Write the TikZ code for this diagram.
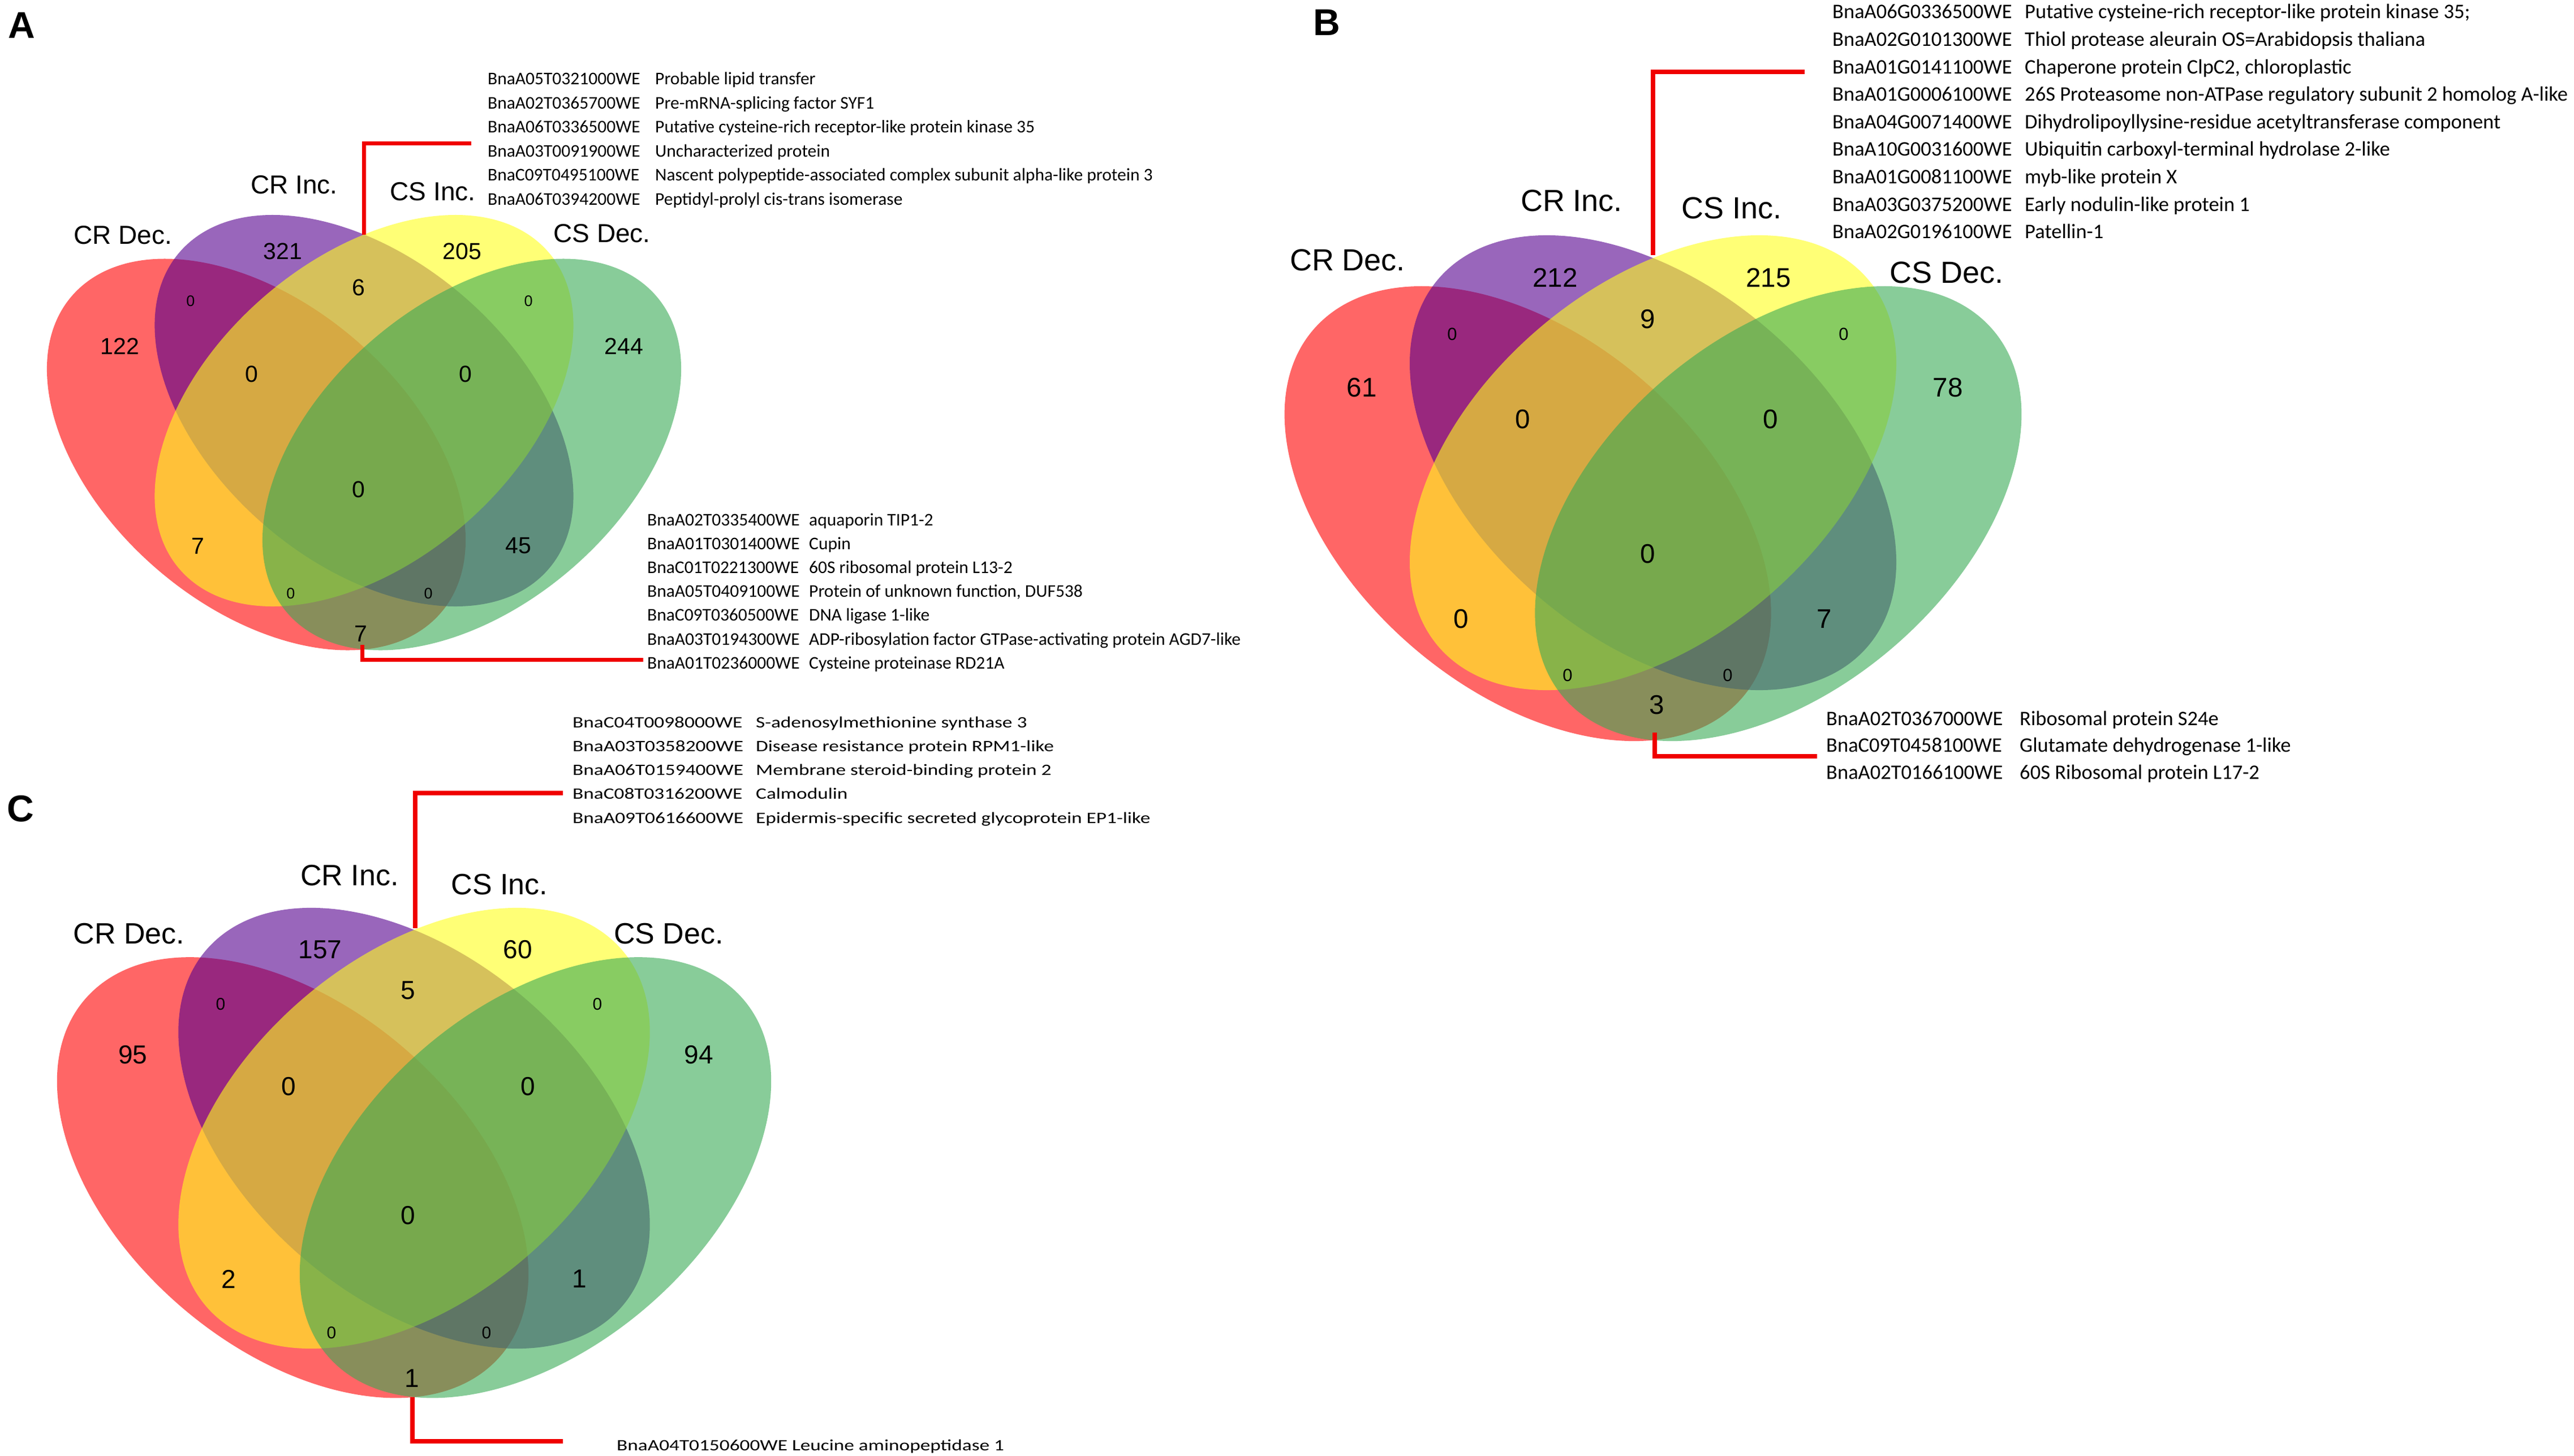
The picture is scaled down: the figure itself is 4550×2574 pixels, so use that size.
\documentclass[tikz,border=0pt]{standalone}
\usepackage{fontspec}
\newfontfamily\arialf{Liberation Sans}
\newfontfamily\calf{Carlito}
\newfontfamily\calwf[FakeStretch=1.26]{Carlito}
\definecolor{vred}{RGB}{255,0,0}
\definecolor{vpurple}{RGB}{85,0,142}
\definecolor{vyellow}{RGB}{255,255,28}
\definecolor{vgreen}{RGB}{57,170,85}
\definecolor{lnred}{RGB}{240,0,0}
\tikzset{
  vfill/.style={fill=#1, fill opacity=0.6},
  panel/.style={font=\arialf\bfseries\fontsize{66}{70}\selectfont, inner sep=0},
  labA/.style={font=\arialf\fontsize{46}{50}\selectfont, inner sep=0},
  numA/.style={font=\arialf\fontsize{41}{45}\selectfont, inner sep=0},
  smA/.style={font=\arialf\fontsize{27}{30}\selectfont, inner sep=0},
  labB/.style={font=\arialf\fontsize{54}{58}\selectfont, inner sep=0},
  numB/.style={font=\arialf\fontsize{47.6}{50}\selectfont, inner sep=0},
  smB/.style={font=\arialf\fontsize{31}{34}\selectfont, inner sep=0},
  labC/.style={font=\arialf\fontsize{52}{56}\selectfont, inner sep=0},
  numC/.style={font=\arialf\fontsize{46}{50}\selectfont, inner sep=0},
  smC/.style={font=\arialf\fontsize{30}{33}\selectfont, inner sep=0},
  gA/.style={font=\calf\fontsize{31.5}{34}\selectfont, inner sep=0, anchor=base west},
  gB/.style={font=\calf\fontsize{36.5}{40}\selectfont, inner sep=0, anchor=base west},
  gC/.style={font=\calwf\fontsize{28}{31}\selectfont, inner sep=0, anchor=base west},
  lead/.style={draw=lnred, line width=#1, line join=miter, line cap=butt},
}
% quad venn: cx, cy, scale
\newcommand\quadvenn[3]{%
\begin{scope}[shift={(#1,#2)}, scale=#3]
  \begin{scope}[shift={(-190.5,77.5)}, yscale=.935, rotate=-45]
    \fill[vfill=vred] (0,0) ellipse [x radius=443.4, y radius=277.9];
  \end{scope}
  \begin{scope}[yscale=.935, rotate=-45]
    \fill[vfill=vpurple] (0,0) ellipse [x radius=443.4, y radius=277.9];
  \end{scope}
  \begin{scope}[yscale=.935, rotate=45]
    \fill[vfill=vyellow] (0,0) ellipse [x radius=443.4, y radius=277.9];
  \end{scope}
  \begin{scope}[shift={(190.5,77.5)}, yscale=.935, rotate=45]
    \fill[vfill=vgreen] (0,0) ellipse [x radius=443.4, y radius=277.9];
  \end{scope}
\end{scope}}
% gene list: prefix, style, xid, xdesc, ybase, dy, list
\newcommand\genes[7]{%
  \foreach \gid/\gdesc [count=\gi from 0] in {#7}{
    \node[#2] (#1id\gi) at (#3, #5+#6*\gi) {\gid};
    \node[#2] (#1de\gi) at (#4, #5+#6*\gi) {\gdesc};
  }}
\begin{document}
\begin{tikzpicture}[x=1pt, y=-1pt]
\useasboundingbox (0,0) rectangle (4550,2574);
\fill[white] (0,0) rectangle (4550,2574);

% ================= Panel A =================
\quadvenn{643.5}{726}{1}
\node[panel] (pA) at (38,45) {A};
\node[labA] (AcrD) at (217,416) {CR Dec.};
\node[labA] (AcrI) at (520,327) {CR Inc.};
\node[labA] (AcsI) at (765,339) {CS Inc.};
\node[labA] (AcsD) at (1064,413) {CS Dec.};
\foreach \t/\x/\y [count=\k] in {321/500/444, 205/817/444, 6/634/508, 122/212/612, 244/1103/612,
  0/445/661, 0/823/661, 0/634/865, 7/350/965, 45/916/965, 7/638/1120}
  \node[numA] (An\k) at (\x,\y) {\t};
\foreach \x/\y [count=\k] in {337/532, 934/532, 514/1049, 757/1049}
  \node[smA] (As\k) at (\x,\y) {0};
\coordinate (Aup0) at (643.5,415);
\coordinate (Aup1) at (833,254);
\draw[lead=7] (Aup0) |- (Aup1);
\coordinate (Adn0) at (640,1140);
\coordinate (Adn1) at (1137,1166);
\draw[lead=7] (Adn0) |- (Adn1);
\genes{At}{gA}{862}{1158}{150}{42.4}{
  BnaA05T0321000WE/Probable lipid transfer,
  BnaA02T0365700WE/Pre-mRNA-splicing factor SYF1,
  BnaA06T0336500WE/Putative cysteine-rich receptor-like protein kinase 35,
  BnaA03T0091900WE/Uncharacterized protein,
  BnaC09T0495100WE/Nascent polypeptide-associated complex subunit alpha-like protein 3,
  BnaA06T0394200WE/Peptidyl-prolyl cis-trans isomerase}
\genes{Ab}{gA}{1144}{1430}{929}{42.2}{
  BnaA02T0335400WE/aquaporin TIP1-2,
  BnaA01T0301400WE/Cupin,
  BnaC01T0221300WE/60S ribosomal protein L13-2,
  BnaA05T0409100WE/{Protein of unknown function, DUF538},
  BnaC09T0360500WE/DNA ligase 1-like,
  BnaA03T0194300WE/ADP-ribosylation factor GTPase-activating protein AGD7-like,
  BnaA01T0236000WE/Cysteine proteinase RD21A}

% ================= Panel B =================
\quadvenn{2922}{818}{1.162}
\node[panel] (pB) at (2345,40) {B};
\node[labB] (BcrD) at (2382,460) {CR Dec.};
\node[labB] (BcrI) at (2778,355) {CR Inc.};
\node[labB] (BcsI) at (3061,368) {CS Inc.};
\node[labB] (BcsD) at (3441,482) {CS Dec.};
\foreach \t/\x/\y [count=\k] in {212/2749/491, 215/3126/491, 9/2913/564, 61/2407/685, 78/3443/685,
  0/2692/741, 0/3130/741, 0/2913/979, 0/2583/1094, 7/3225/1094, 3/2929/1246}
  \node[numB] (Bn\k) at (\x,\y) {\t};
\foreach \x/\y [count=\k] in {2567/591, 3259/591, 2771/1194, 3054/1194}
  \node[smB] (Bs\k) at (\x,\y) {0};
\coordinate (Bup0) at (2922,451);
\coordinate (Bup1) at (3190,127);
\draw[lead=8.5] (Bup0) |- (Bup1);
\coordinate (Bdn0) at (2925,1295);
\coordinate (Bdn1) at (3212,1337);
\draw[lead=8.5] (Bdn0) |- (Bdn1);
\genes{Bt}{gB}{3239}{3579}{33}{48.6}{
  BnaA06G0336500WE/Putative cysteine-rich receptor-like protein kinase 35;,
  BnaA02G0101300WE/Thiol protease aleurain OS=Arabidopsis thaliana,
  BnaA01G0141100WE/{Chaperone protein ClpC2, chloroplastic},
  BnaA01G0006100WE/26S Proteasome non-ATPase regulatory subunit 2 homolog A-like,
  BnaA04G0071400WE/Dihydrolipoyllysine-residue acetyltransferase component,
  BnaA10G0031600WE/Ubiquitin carboxyl-terminal hydrolase 2-like,
  BnaA01G0081100WE/myb-like protein X,
  BnaA03G0375200WE/Early nodulin-like protein 1,
  BnaA02G0196100WE/Patellin-1}
\genes{Bb}{gB}{3228}{3570}{1282}{47.5}{
  BnaA02T0367000WE/Ribosomal protein S24e,
  BnaC09T0458100WE/Glutamate dehydrogenase 1-like,
  BnaA02T0166100WE/60S Ribosomal protein L17-2}

% ================= Panel C =================
\quadvenn{732}{1994.5}{1.126}
\node[panel] (pC) at (36,1430) {C};
\node[labC] (CcrD) at (228,1651) {CR Dec.};
\node[labC] (CcrI) at (618,1548) {CR Inc.};
\node[labC] (CcsI) at (883,1564) {CS Inc.};
\node[labC] (CcsD) at (1182,1651) {CS Dec.};
\foreach \t/\x/\y [count=\k] in {157/566/1679, 60/915/1679, 5/721/1751, 95/235/1865, 94/1235/1865,
  0/510/1921, 0/933/1921, 0/721/2149, 2/404/2261, 1/1024/2261, 1/728/2437}
  \node[numC] (Cn\k) at (\x,\y) {\t};
\foreach \x/\y [count=\k] in {390/1775, 1056/1775, 586/2356, 860/2356}
  \node[smC] (Cs\k) at (\x,\y) {0};
\coordinate (Cup0) at (734,1641);
\coordinate (Cup1) at (995,1402);
\draw[lead=8.5] (Cup0) |- (Cup1);
\coordinate (Cdn0) at (729,2470);
\coordinate (Cdn1) at (995,2548);
\draw[lead=8.5] (Cdn0) |- (Cdn1);
\genes{Ct}{gC}{1012}{1336}{1286}{42.3}{
  BnaC04T0098000WE/S-adenosylmethionine synthase 3,
  BnaA03T0358200WE/Disease resistance protein RPM1-like,
  BnaA06T0159400WE/Membrane steroid-binding protein 2,
  BnaC08T0316200WE/Calmodulin,
  BnaA09T0616600WE/Epidermis-specific secreted glycoprotein EP1-like}
\node[gC] (Cbot) at (1090,2564) {BnaA04T0150600WE Leucine aminopeptidase 1};
\end{tikzpicture}
\end{document}
